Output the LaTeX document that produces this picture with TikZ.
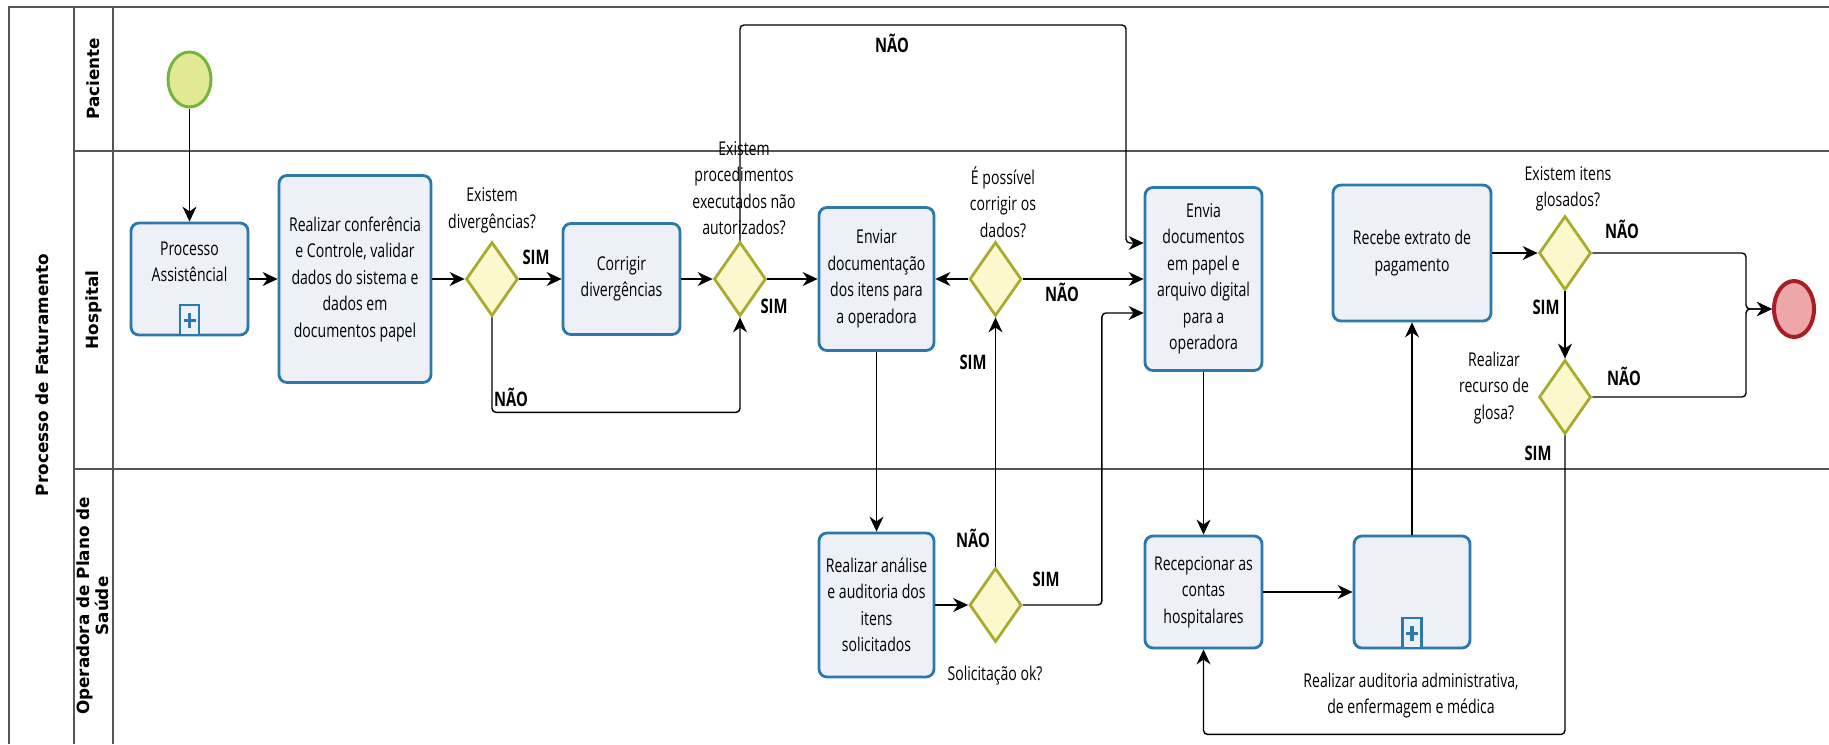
\documentclass[tikz,border=0pt]{standalone}
\usepackage{fontspec}
\setmainfont{Open Sans}[FakeStretch=0.74]
\newfontfamily\lanefont{DejaVu Sans}
\usetikzlibrary{arrows.meta,shapes.geometric}
\definecolor{taskfill}{HTML}{EEF0F8}
\definecolor{taskline}{HTML}{2B78AB}
\definecolor{gwfill}{HTML}{FAF8CC}
\definecolor{gwline}{HTML}{A9AB2E}
\definecolor{startfill}{HTML}{E2E893}
\definecolor{startline}{HTML}{72B63E}
\definecolor{endfill}{HTML}{EEA7A8}
\definecolor{endline}{HTML}{A81E26}
\definecolor{lanecol}{HTML}{555555}
\newcommand\flowtxt{\fontsize{9.5}{13.25}\selectfont}
\newcommand\flowlbl{\fontsize{10}{12}\selectfont\bfseries}
\newcommand\lanetxt{\lanefont\bfseries\fontsize{8.4}{9.5}\selectfont}
\tikzset{
  task/.style={draw=taskline,line width=1.4pt,rounded corners=4pt,fill=taskfill,align=center,inner sep=2pt,font=\flowtxt},
  wh/.style 2 args={minimum width=#1*0.5pt,minimum height=#2*0.5pt},
  submark/.style={draw=taskline,line width=1.1pt,fill=taskfill,minimum width=9.5pt,minimum height=15pt,inner sep=0pt,anchor=south,
    path picture={\draw[taskline,line width=1.8pt]
      ([xshift=-3pt]path picture bounding box.center) -- ([xshift=3pt]path picture bounding box.center)
      ([yshift=-3.8pt]path picture bounding box.center) -- ([yshift=3.8pt]path picture bounding box.center);}},
  gw/.style={diamond,draw=gwline,line width=1.4pt,fill=gwfill,inner sep=0pt,minimum width=26pt,minimum height=37pt},
  gwtxt/.style={align=center,font=\flowtxt,inner sep=0pt},
  yn/.style={font=\flowlbl,inner sep=0pt},
  startev/.style={ellipse,draw=startline,line width=1.5pt,fill=startfill,minimum width=21.5pt,minimum height=27.5pt,inner sep=0pt},
  endev/.style={ellipse,draw=endline,line width=2pt,fill=endfill,minimum width=20pt,minimum height=28pt,inner sep=0pt},
  flow/.style={-{Stealth[length=7.5pt,width=7pt]},line width=0.7pt,rounded corners=2pt},
  lanelbl/.style={rotate=90,align=center,font=\lanetxt,inner sep=0pt},
  lane/.style={draw=lanecol,line width=1pt},
}

\begin{document}
\begin{tikzpicture}[x=0.5pt,y=-0.5pt]
  \useasboundingbox (0,0) rectangle (1829,744);
  % pool and lanes
  \draw[lane] (1829,7) -- (9,7) -- (9,744);
  \draw[lane] (74,7) -- (74,744);
  \draw[lane] (113,7) -- (113,744);
  \draw[lane] (74,151) -- (1829,151);
  \draw[lane] (74,469) -- (1829,469);
  \node[lanelbl] (pool) at (42,375) {Processo de Faturamento};
  \node[lanelbl] (pac) at (93.5,79) {Paciente};
  \node[lanelbl] (hosp) at (93.5,310) {Hospital};
  \node[lanelbl] (oper) at (93,606) {Operadora de Plano de\\Saúde};

  % hospital
  \node[startev] (inicio) at (189.5,79.5) {};
  \node[task,wh={117}{112}] (proc) at (189.5,279) {};
  \node[gwtxt] (proctxt) at (189.5,262) {Processo\\Assistêncial};
  \node[submark] (procmark) at (proc.south) {};
  \node[task,wh={152}{207}] (conf) at (355,279) {Realizar conferência\\e Controle, validar\\dados do sistema e\\dados em\\documentos papel};
  \node[gw] (gw1) at (492,279) {};
  \node[gwtxt] (gw1txt) at (492,210.5) {Existem\\divergências?};
  \node[task,wh={117}{111}] (corr) at (621.5,279) {Corrigir\\divergências};
  \node[gw] (gw2) at (740,279) {};
  \node[gwtxt] (gw2txt) at (744,188) {Existem\\procedimentos\\executados não\\autorizados?};
  \node[task,wh={115}{143}] (envi) at (876.5,279) {Enviar\\documentação\\dos itens para\\a operadora};
  \node[gw] (gw3) at (995.5,279) {};
  \node[gwtxt] (gw3txt) at (1003,202) {É possível\\corrigir os\\dados?};
  \node[task,wh={117}{183}] (envdoc) at (1203.5,279) {Envia\\documentos\\em papel e\\arquivo digital\\para a\\operadora};
  \node[task,wh={158}{136}] (receb) at (1412,253) {Recebe extrato de\\pagamento};
  \node[gw] (gw6) at (1565,253) {};
  \node[gwtxt] (gw6txt) at (1568,189) {Existem itens\\glosados?};
  \node[gw] (gw5) at (1565,397) {};
  \node[gwtxt] (gw5txt) at (1494,388) {Realizar\\recurso de\\glosa?};
  \node[endev] (fim) at (1794,309) {};

  % operadora
  \node[task,wh={115}{144}] (anal) at (876.5,605) {Realizar análise\\e auditoria dos\\itens\\solicitados};
  \node[gw] (gw4) at (995.5,605) {};
  \node[gwtxt] (gw4txt) at (995,676) {Solicitação ok?};
  \node[task,wh={117}{112}] (recep) at (1203.5,592) {Recepcionar as\\contas\\hospitalares};
  \node[task,wh={116}{112}] (audit) at (1412,592) {};
  \node[submark] (auditmark) at (audit.south) {};
  \node[gwtxt] (audittxt) at (1411,695.5) {Realizar auditoria administrativa,\\de enfermagem e médica};

  % flows
  \draw[flow] (inicio) -- (proc);
  \draw[flow] (proc) -- (conf);
  \draw[flow] (conf) -- (gw1);
  \draw[flow] (gw1) -- (corr);
  \draw[flow] (corr) -- (gw2);
  \draw[flow] (gw2) -- (envi);
  \draw[flow] (gw1.south) -- ++(0,95) -| (gw2.south);
  \draw[flow] (gw2.north) |- (1126,25) |- ([yshift=18pt]envdoc.west);
  \draw[flow] (gw3) -- (envi);
  \draw[flow] (gw3) -- (envdoc);
  \draw[flow] (envi) -- (anal);
  \draw[flow] (anal) -- (gw4);
  \draw[flow] (gw4) -- (gw3);
  \draw[flow] (gw4.east) -- ++(79,0) |- ([yshift=-17pt]envdoc.west);
  \draw[flow] (envdoc) -- (recep);
  \draw[flow] (recep) -- (audit);
  \draw[flow] (audit) -- (receb);
  \draw[flow] (receb) -- (gw6);
  \draw[flow] (gw6) -- (gw5);
  \draw[flow] (gw6.east) -| ([xshift=-13pt]fim.west) -- (fim.west);
  \draw[flow] (gw5.east) -| ([xshift=-13pt]fim.west) -- (fim.west);
  \draw[flow] (gw5.south) -- ++(0,299) -| (recep.south);

  % SIM / NAO
  \node[yn] (sim1) at (536,257) {SIM};
  \node[yn] (nao1) at (511,397) {NÃO};
  \node[yn] (sim2) at (774,306) {SIM};
  \node[yn] (nao2) at (892,43) {NÃO};
  \node[yn] (nao3) at (1062,292) {NÃO};
  \node[yn] (sim3) at (973,362) {SIM};
  \node[yn] (nao4) at (973,538) {NÃO};
  \node[yn] (sim4) at (1046,579) {SIM};
  \node[yn] (nao5) at (1622,229) {NÃO};
  \node[yn] (sim5) at (1546,307) {SIM};
  \node[yn] (nao6) at (1624,376) {NÃO};
  \node[yn] (sim6) at (1538,453) {SIM};
\end{tikzpicture}
\end{document}
